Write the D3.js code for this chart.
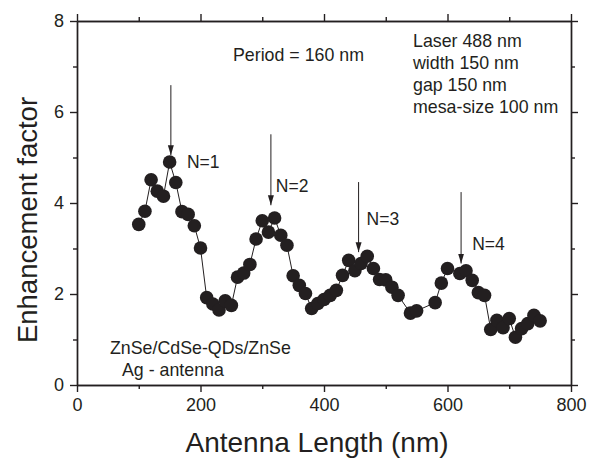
<!DOCTYPE html>
<html>
<head>
<meta charset="utf-8">
<script src="https://cdn.jsdelivr.net/npm/d3@7"></script>
<style>
  body { margin: 0; background: #fff; }
  text { font-family: "Liberation Sans", Arial, sans-serif; fill: #231f20; }
</style>
</head>
<body>
<div id="chart"></div>
<script>
// Data
var antennaLength = [100, 110, 120, 130, 140, 150, 160, 170, 180, 190, 200,
  210, 220, 230, 240, 250, 260, 270, 280, 290, 300, 310, 320, 330, 340, 350,
  360, 370, 380, 390, 400, 410, 420, 430, 440, 450, 460, 470, 480, 490, 500,
  510, 520, 540, 550, 580, 590, 600, 620, 630, 640, 650, 660, 670, 680, 690,
  700, 710, 720, 730, 740, 750];
var enhancement = [3.53, 3.82, 4.51, 4.26, 4.15, 4.90, 4.45, 3.81, 3.75, 3.50, 3.01,
  1.92, 1.78, 1.65, 1.85, 1.75, 2.37, 2.46, 2.65, 3.21, 3.61, 3.36, 3.67, 3.29, 3.07, 2.40,
  2.19, 2.01, 1.68, 1.79, 1.88, 1.97, 2.08, 2.41, 2.74, 2.51, 2.67, 2.83, 2.56, 2.32, 2.31,
  2.15, 1.97, 1.58, 1.63, 1.81, 2.24, 2.56, 2.45, 2.51, 2.30, 2.03, 1.97, 1.22, 1.42, 1.26,
  1.46, 1.05, 1.24, 1.35, 1.53, 1.41];

// Resonance order arrows and their labels (data units)
var orderLabels = ["N=1", "N=2", "N=3", "N=4"];
var arrowX = [152, 314, 456, 622];
var arrowTop = [6.59, 5.51, 4.46, 4.24];
var arrowTip = [5.05, 3.95, 2.92, 2.67];
var labelX = [178, 322, 469, 640];
var labelY = [4.78, 4.24, 3.51, 2.96];

var xTicks = [0, 200, 400, 600, 800];
var yTicks = [0, 2, 4, 6, 8];

var svgWidth = 596;
var svgHeight = 459;

var chartMargin = { top: 21, right: 25, bottom: 74, left: 77 };
var chartWidth = svgWidth - chartMargin.left - chartMargin.right;
var chartHeight = svgHeight - chartMargin.top - chartMargin.bottom;

var ink = "#231f20";

var svg = d3.select("#chart")
  .append("svg")
  .attr("width", svgWidth)
  .attr("height", svgHeight);

var chartGroup = svg.append("g")
  .attr("transform", `translate(${chartMargin.left}, ${chartMargin.top})`);

var xScale = d3.scaleLinear().domain([0, 800]).range([0, chartWidth]);
var yScale = d3.scaleLinear().domain([0, 8]).range([chartHeight, 0]);

// axes: major ticks with labels, minor ticks in between, frame on all sides
function styleAxis(g) {
  g.select(".domain").attr("stroke", ink).attr("stroke-width", 1.4);
  g.selectAll(".tick line").attr("stroke", ink).attr("stroke-width", 1.4);
  g.selectAll(".tick text").attr("font-size", 18).attr("fill", ink)
    .style("font-family", "'Liberation Sans', Arial, sans-serif");
}

var minorX = d3.range(100, 800, 200);
var minorY = d3.range(1, 8, 2);

chartGroup.append("g")
  .attr("transform", "translate(0," + chartHeight + ")")
  .call(d3.axisBottom(xScale).tickValues(xTicks).tickSize(7).tickSizeOuter(0).tickPadding(6))
  .call(styleAxis);
chartGroup.append("g")
  .attr("transform", "translate(0," + chartHeight + ")")
  .call(d3.axisBottom(xScale).tickValues(minorX).tickSize(4).tickSizeOuter(0).tickFormat(""))
  .call(styleAxis);

chartGroup.append("g")
  .call(d3.axisTop(xScale).tickValues(xTicks).tickSize(7).tickSizeOuter(0).tickFormat(""))
  .call(styleAxis);
chartGroup.append("g")
  .call(d3.axisTop(xScale).tickValues(minorX).tickSize(4).tickSizeOuter(0).tickFormat(""))
  .call(styleAxis);

chartGroup.append("g")
  .call(d3.axisLeft(yScale).tickValues(yTicks).tickSize(7).tickSizeOuter(0).tickPadding(6))
  .call(styleAxis);
chartGroup.append("g")
  .call(d3.axisLeft(yScale).tickValues(minorY).tickSize(4).tickSizeOuter(0).tickFormat(""))
  .call(styleAxis);

chartGroup.append("g")
  .attr("transform", "translate(" + chartWidth + ",0)")
  .call(d3.axisRight(yScale).tickValues(yTicks).tickSize(7).tickSizeOuter(0).tickFormat(""))
  .call(styleAxis);
chartGroup.append("g")
  .attr("transform", "translate(" + chartWidth + ",0)")
  .call(d3.axisRight(yScale).tickValues(minorY).tickSize(4).tickSizeOuter(0).tickFormat(""))
  .call(styleAxis);

// connecting line + markers
var points = antennaLength.map(function(d, i) { return { x: d, y: enhancement[i] }; });

var line = d3.line()
  .x(d => xScale(d.x))
  .y(d => yScale(d.y));

chartGroup.append("path")
  .datum(points)
  .attr("fill", "none")
  .attr("stroke", ink)
  .attr("stroke-width", 1)
  .attr("d", line);

chartGroup.append("g")
  .attr("fill", ink)
  .selectAll("circle")
  .data(points)
  .enter().append("circle")
  .attr("cx", d => xScale(d.x))
  .attr("cy", d => yScale(d.y))
  .attr("r", 6.8);

// arrows marking the orders
svg.append("defs").append("marker")
  .attr("id", "head")
  .attr("viewBox", "0 0 10 10")
  .attr("refX", 10).attr("refY", 5)
  .attr("markerWidth", 10).attr("markerHeight", 10)
  .attr("markerUnits", "userSpaceOnUse")
  .attr("orient", "auto")
  .append("path")
  .attr("d", "M0,2 L10,5 L0,8 Z")
  .attr("fill", ink);

var arrows = orderLabels.map(function(d, i) {
  return { label: d, x: arrowX[i], top: arrowTop[i], tip: arrowTip[i], lx: labelX[i], ly: labelY[i] };
});

chartGroup.append("g")
  .selectAll("line")
  .data(arrows)
  .enter().append("line")
  .attr("x1", d => xScale(d.x))
  .attr("x2", d => xScale(d.x))
  .attr("y1", d => yScale(d.top))
  .attr("y2", d => yScale(d.tip))
  .attr("stroke", ink)
  .attr("stroke-width", 1)
  .attr("marker-end", "url(#head)");

chartGroup.append("g")
  .selectAll("text")
  .data(arrows)
  .enter().append("text")
  .attr("x", d => xScale(d.lx))
  .attr("y", d => yScale(d.ly))
  .attr("font-size", 17.5)
  .text(d => d.label);

// annotations
var notes = [
  { t: "Period = 160 nm", x: 233, y: 61 },
  { t: "Laser 488 nm", x: 413, y: 47 },
  { t: "width 150 nm", x: 413, y: 69 },
  { t: "gap 150 nm", x: 413, y: 91 },
  { t: "mesa-size 100 nm", x: 413, y: 113 },
  { t: "ZnSe/CdSe-QDs/ZnSe", x: 110, y: 354 },
  { t: "Ag - antenna", x: 122, y: 376 }
];
svg.append("g")
  .selectAll("text")
  .data(notes)
  .enter().append("text")
  .attr("x", d => d.x)
  .attr("y", d => d.y)
  .attr("font-size", 17.8)
  .text(d => d.t);

// axis titles
svg.append("text")
  .attr("x", chartMargin.left + chartWidth / 2 - 7)
  .attr("y", 452)
  .attr("text-anchor", "middle")
  .attr("font-size", 28)
  .text("Antenna Length (nm)");

svg.append("text")
  .attr("transform", "translate(37, 220) rotate(-90)")
  .attr("text-anchor", "middle")
  .attr("font-size", 27.5)
  .text("Enhancement factor");
</script>
</body>
</html>
